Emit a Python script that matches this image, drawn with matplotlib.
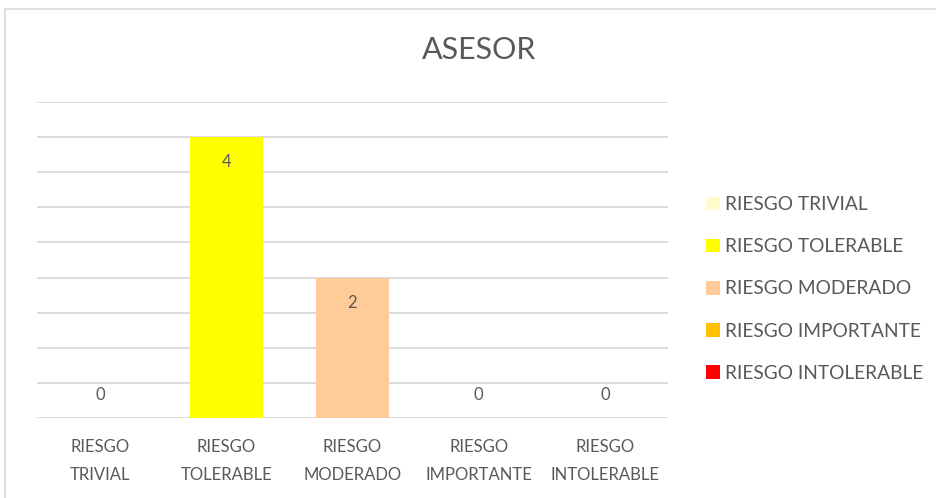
import matplotlib.pyplot as plt
from matplotlib.patches import Patch, Rectangle

categories = ['RIESGO\nTRIVIAL', 'RIESGO\nTOLERABLE', 'RIESGO\nMODERADO', 'RIESGO\nIMPORTANTE', 'RIESGO\nINTOLERABLE']
legend_names = ['RIESGO TRIVIAL', 'RIESGO TOLERABLE', 'RIESGO MODERADO', 'RIESGO IMPORTANTE', 'RIESGO INTOLERABLE']
values = [0, 4, 2, 0, 0]
colors = ['#FFFBCC', '#FFFF00', '#FFCC99', '#FFC000', '#FF0000']

txt = '#595959'
grid = '#D9D9D9'
plt.rcParams['font.family'] = ['Lato', 'DejaVu Sans']

fig = plt.figure(figsize=(9.36, 4.98), dpi=100)
ax = fig.add_axes([37/936, 1-418/498, 631/936, 316/498])

x = range(len(categories))
bars = ax.bar(x, values, width=0.58, color=colors, zorder=2)
ax.set_xlim(-0.5, len(categories)-0.5)
ax.set_ylim(0, 4.5)
ax.set_yticks([i*0.5 for i in range(10)])
ax.yaxis.grid(True, color=grid, lw=1.3, zorder=0)
ax.tick_params(axis='y', length=0, labelleft=False)
ax.set_xticks(list(x))
ax.set_xticklabels(categories, fontsize=12, color=txt, linespacing=1.9)
ax.tick_params(axis='x', length=0, pad=15)
for s in ax.spines.values():
    s.set_visible(False)

for i, v in enumerate(values):
    off = -25 if v > 0 else 23
    ax.annotate(str(v), (i, v), xytext=(0, off*0.72), textcoords='offset points',
                ha='center', va='center', fontsize=12, color=txt, zorder=3)

fig.text(479/936, 1-50/498, 'ASESOR', ha='center', va='center', fontsize=22, color=txt)

handles = [Patch(facecolor=c, edgecolor='none') for c in colors]
leg = fig.legend(handles, legend_names, loc='center left', bbox_to_anchor=(689/936, 1-289/498),
                 frameon=False, fontsize=13.8, labelcolor=txt, handlelength=0.7, handleheight=0.7,
                 handletextpad=0.3, labelspacing=1.31)

fig.patches.append(Rectangle((5/936, -0.1), 1.2, 1.1-9/498, transform=fig.transFigure,
                             fill=False, edgecolor=grid, lw=1.2))

fig.savefig('out.png', dpi=100)
